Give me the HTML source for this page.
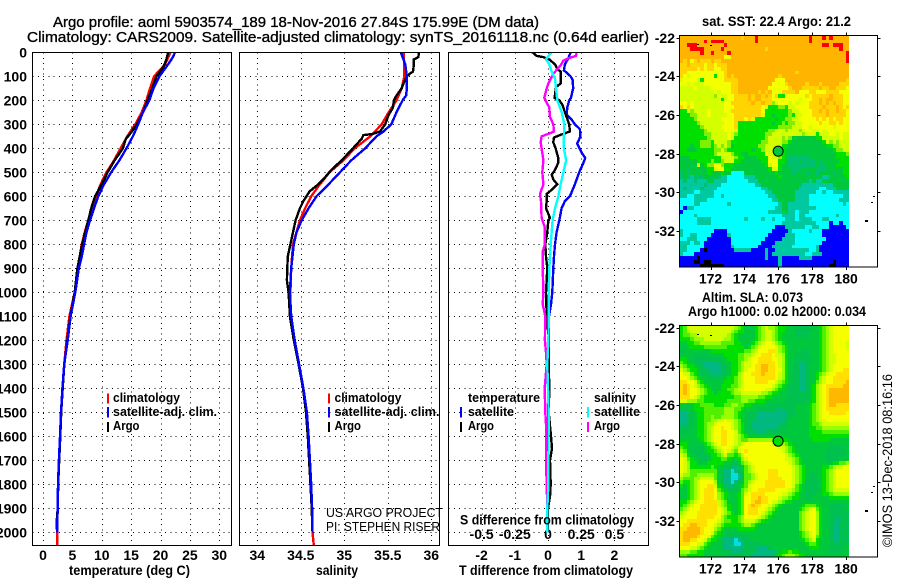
<!DOCTYPE html>
<html>
<head>
<meta charset="utf-8">
<title>Argo profile</title>
<style>
html,body{margin:0;padding:0;background:#fff;}
svg{display:block;}
text{font-family:"Liberation Sans",sans-serif;fill:#000;}
.b{font-weight:bold;font-size:14px;}
.t{font-size:15px;stroke:#000;stroke-width:.35px;}
.n{font-size:13px;font-weight:bold;}
.thin{font-size:13px;}
</style>
</head>
<body>
<svg id="chart" xmlns="http://www.w3.org/2000/svg" width="900" height="580" viewBox="0 0 900 580">
<rect width="900" height="580" fill="#fff"/>
<defs>
<clipPath id="c1"><rect x="32" y="52" width="199.5" height="493.5"/></clipPath>
<clipPath id="c2"><rect x="239" y="52" width="200.5" height="493.5"/></clipPath>
<clipPath id="c3"><rect x="448" y="52" width="200.5" height="493.5"/></clipPath>
<clipPath id="m1"><rect x="680" y="36" width="197" height="231"/></clipPath>
<clipPath id="m2"><rect x="680" y="326" width="197" height="231"/></clipPath>
</defs>

<text class="t" x="53" y="27" textLength="486" lengthAdjust="spacingAndGlyphs">Argo profile: aoml 5903574_189 18-Nov-2016 27.84S 175.99E (DM data)</text>
<text class="t" x="27" y="42" textLength="622" lengthAdjust="spacingAndGlyphs">Climatology: CARS2009. Satellite-adjusted climatology: synTS_20161118.nc (0.64d earlier)</text>

<text class="b" x="69" y="575" textLength="121" lengthAdjust="spacingAndGlyphs">temperature (deg C)</text>
<text class="b" x="316" y="575" textLength="42" lengthAdjust="spacingAndGlyphs">salinity</text>
<text class="b" x="459" y="575" textLength="174" lengthAdjust="spacingAndGlyphs">T difference from climatology</text>

<g id="layer-grid"></g>
<g id="layer-lines"></g>
<g id="layer-maps"></g>

<g>
<rect x="107" y="393.5" width="2" height="10" fill="#f00"/>
<rect x="107" y="407" width="2" height="10.5" fill="#00f"/>
<rect x="107" y="422" width="2" height="10" fill="#000"/>
<text class="n" x="113" y="402" textLength="67" lengthAdjust="spacingAndGlyphs">climatology</text>
<text class="n" x="113" y="416" textLength="104" lengthAdjust="spacingAndGlyphs">satellite-adj. clim.</text>
<text class="n" x="113" y="430" textLength="26.5" lengthAdjust="spacingAndGlyphs">Argo</text>
</g>
<g>
<rect x="328" y="393.5" width="2" height="10" fill="#f00"/>
<rect x="328" y="407" width="2" height="10.5" fill="#00f"/>
<rect x="328" y="422" width="2" height="10" fill="#000"/>
<text class="n" x="334.5" y="402" textLength="67" lengthAdjust="spacingAndGlyphs">climatology</text>
<text class="n" x="334.5" y="416" textLength="105" lengthAdjust="spacingAndGlyphs">satellite-adj. clim.</text>
<text class="n" x="334.5" y="430" textLength="26.5" lengthAdjust="spacingAndGlyphs">Argo</text>
</g>
<text class="thin" x="326" y="517" textLength="117" lengthAdjust="spacingAndGlyphs">US ARGO PROJECT</text>
<text class="thin" x="326" y="531" textLength="114" lengthAdjust="spacingAndGlyphs">PI: STEPHEN RISER</text>

<g>
<text class="n" x="468" y="402" textLength="72" lengthAdjust="spacingAndGlyphs">temperature</text>
<text class="n" x="468" y="416" textLength="46" lengthAdjust="spacingAndGlyphs">satellite</text>
<text class="n" x="468" y="430" textLength="26" lengthAdjust="spacingAndGlyphs">Argo</text>
<rect x="460" y="407" width="2" height="10.5" fill="#00f"/>
<rect x="460" y="422" width="2" height="10" fill="#000"/>
<text class="n" x="594" y="402" textLength="42" lengthAdjust="spacingAndGlyphs">salinity</text>
<text class="n" x="594" y="416" textLength="46" lengthAdjust="spacingAndGlyphs">satellite</text>
<text class="n" x="594" y="430" textLength="26" lengthAdjust="spacingAndGlyphs">Argo</text>
<rect x="587" y="407" width="2" height="10.5" fill="#0ff"/>
<rect x="587" y="422" width="2" height="10" fill="#f0f"/>
</g>
<text class="b" x="460" y="524.5" textLength="174" lengthAdjust="spacingAndGlyphs">S difference from climatology</text>

<text class="b" x="702" y="26" textLength="149" lengthAdjust="spacingAndGlyphs">sat. SST: 22.4 Argo: 21.2</text>
<text class="b" x="702" y="302" textLength="101" lengthAdjust="spacingAndGlyphs">Altim. SLA: 0.073</text>
<text class="b" x="688" y="316" textLength="178" lengthAdjust="spacingAndGlyphs">Argo h1000: 0.02 h2000: 0.034</text>
<text font-size="14" transform="rotate(-90 892 547)" x="892" y="547" textLength="173" lengthAdjust="spacingAndGlyphs">©IMOS 13-Dec-2018 08:16:16</text>
</svg>

<script>
// ---- depth axis ----
const depthTicks = [0,100,200,300,400,500,600,700,800,900,1000,1100,1200,1300,1400,1500,1600,1700,1800,1900,2000];
const tempTicks = [0,5,10,15,20,25,30];
const salTicks = [34,34.5,35,35.5,36];
const salTickLabels = ["34","34.5","35","35.5","36"];
const diffTTicks = [-2,-1,0,1,2];
const diffSTicks = [-0.5,-0.25,0,0.25,0.5];
const diffSTickLabels = ["-0.5","-0.25","0","0.25","0.5"];

// ---- temperature profiles (deg C) ----
const tempClimDepth = [0,50,100,150,200,250,300,350,400,450,500,550,600,650,700,750,800,900,1000,1100,1200,1300,1400,1500,1600,1700,1800,1900,2000,2054];
const tempClim = [21.7,20.8,18.9,18.2,17.6,16.8,15.7,14.35,13.2,12.1,10.8,9.8,9,8.3,7.7,7.1,6.6,5.9,5.4,4.5,4,3.6,3.3,3.06,2.9,2.7,2.55,2.5,2.4,2.4];
const tempSatDepth = [0,20,50,100,150,200,250,300,350,400,450,500,550,600,650,700,750,800,850,900,950,1000,1100,1200,1300,1400,1500,1600,1700,1800,1900,2000];
const tempSat = [22.46,22.1,21.3,19.8,18.8,18.1,17,16.2,15.3,14.2,13,11.6,10.4,9.4,8.7,8,7.4,7,6.6,6.1,5.8,5.5,4.7,4.2,3.6,3.3,3.06,2.9,2.7,2.55,2.5,2.4];
const tempArgoDepth = [0,30,60,100,150,200,250,300,350,360,400,450,500,550,600,650,700,800,900,1000,1100,1200,1300,1400,1500,1600,1700,1800,1900,1950,2000];
const tempArgo = [21.3,21,20.5,19.3,18.6,17.8,17,16,14.5,14.1,13.6,12.2,11,10,8.85,8.2,7.7,6.65,5.85,5.4,4.65,4.15,3.62,3.35,3.1,2.95,2.75,2.58,2.5,2.35,2.38];

// ---- salinity profiles ----
const salClimDepth = [0,50,100,150,200,250,300,350,400,450,500,550,600,650,700,800,900,1000,1050,1100,1200,1300,1400,1500,1600,1700,1800,1900,2000,2054];
const salClim = [35.68,35.69,35.69,35.66,35.6,35.51,35.43,35.3,35.12,34.99,34.83,34.72,34.62,34.55,34.49,34.41,34.39,34.38,34.38,34.39,34.43,34.48,34.53,34.57,34.59,34.605,34.62,34.63,34.635,34.65];
const salSatDepth = [0,20,50,100,150,180,200,250,300,330,350,400,450,500,550,600,650,700,750,800,900,1000,1100,1200,1300,1400,1500,1600,1700,1800,1900,2000];
const salSat = [35.65,35.67,35.7,35.72,35.72,35.71,35.67,35.6,35.54,35.45,35.37,35.24,35.08,34.95,34.82,34.68,34.59,34.51,34.45,34.42,34.39,34.375,34.39,34.43,34.48,34.53,34.57,34.59,34.605,34.62,34.63,34.635];
const salArgoDepth = [0,20,30,50,80,90,100,130,150,180,200,230,260,300,330,340,345,360,400,450,490,520,550,580,620,650,700,750,800,850,900,950,1000,1100,1200,1300,1400,1500,1600,1700,1800,1900,2000];
const salArgo = [35.86,35.85,35.8,35.8,35.79,35.75,35.72,35.68,35.66,35.6,35.57,35.56,35.51,35.47,35.41,35.33,35.22,35.2,35.1,34.97,34.85,34.78,34.7,34.6,34.53,34.49,34.44,34.41,34.38,34.35,34.345,34.34,34.36,34.375,34.42,34.475,34.525,34.56,34.58,34.595,34.612,34.625,34.635];

// ---- differences from climatology ----
const diffTSatDepth = [0,25,50,75,100,115,150,190,200,230,260,280,300,320,350,380,420,440,460,500,550,600,620,650,700,750,800,850,900,1000,1050,1100,1200,1300,1400,1500,1700,2000];
const diffTSat = [.68,.61,.51,.48,.68,.74,.76,.69,.64,.58,.56,.71,.81,.96,.98,.88,1.02,1.12,1.07,.94,.81,.66,.51,.41,.34,.26,.21,.18,.16,.13,.09,.03,.03,.02,.01,.01,0,0];
const diffTArgoDepth = [0,15,20,30,50,70,80,100,130,145,190,200,220,250,300,330,345,355,375,400,440,460,490,510,530,550,570,590,620,650,690,700,750,800,850,900,1000,1100,1200,1300,1400,1500,1600,1650,1700,1800,1850,1900,2000];
const diffTArgo = [-.47,-.34,-.14,.04,.21,.28,.38,.38,.38,.24,.2,.34,.44,.51,.64,.66,.36,.18,.16,.23,.31,.31,.21,.11,.16,.28,.14,-.04,-.04,-.06,.06,.01,-.02,-.08,-.06,-.02,-.06,-.04,.03,.02,.04,.02,.09,.12,.06,.08,.06,0,0];
const diffSArgoDepth = [0,15,25,35,55,70,90,130,150,190,210,230,270,300,330,340,350,375,400,450,500,550,590,620,690,730,800,830,900,1000,1050,1100,1200,1250,1300,1400,1500,1550,1700,1800,1900,2000];
const diffSArgo = [.216,.211,.153,.115,.095,.07,.04,.003,-.01,-.028,-.01,.01,.015,.04,.045,.003,-.048,-.055,-.048,-.035,-.043,-.035,-.06,-.053,-.048,-.023,-.023,-.04,-.04,-.035,-.04,-.02,-.023,-.015,-.01,-.025,-.02,-.015,-.015,-.01,-.005,-.005];
const diffSSatDepth = [0,15,30,50,80,110,150,200,250,300,350,400,450,500,550,600,650,700,800,900,1000,1100,1200,1300,1400,1500,1700,1800,1900,2000];
const diffSSat = [.028,.003,-.015,.01,.028,.053,.06,.07,.103,.123,.12,.12,.136,.116,.095,.078,.053,.035,.02,.01,.005,.005,.003,-.005,0,.005,.003,.003,-.005,-.005];

// ---- maps ----
const mapLatTicks = [-22,-24,-26,-28,-30,-32];
const mapLonTicks = [172,174,176,178,180];
const argoLat = -27.84;
const argoLon = 175.99;
const islandLon = [181.65,181.5,181.2,172.03,171.28];
const islandLat = [-30.17,-30.48,-31.43,-22.36,-22.33];

// SST colour class per 0.2 degree cell (hex digit, one row per latitude)
const sstGrid = [
"aaaaaaaaaa aaaaaaaa9a aabaaaaaaa aaaaaaaaba aababaaaaa",
"aaaaaaabab bbbaaaaaaa aabaaaaaaa aaaaaaaaba aaaaaaaaaa",
"aabbbaaaaa aaabaaaaaa aaaaaaaaaa aaaaaaaaaa aabbabbbaa",
"aaabbbbaaa aabaaaaaaa aaaaa9aaaa aaaaaaaaaa aaaaaaabaa",
"aaaaaabaab aaaabaaaaa aaaaaaaaaa aaaaaaaaaa aaaaaaaaab",
"aaaaaaaaaa aaa88aaaaa aaaaaaaaaa aaaaaaaaaa aaaaaaaaab",
"a9a89a999a 99aaaaaaaa aaaaaaaaaa aaaaaaaaaa aaaaaaaaab",
"99a9999899 8999aaaaaa aaaaaaaaaa aaaaaaaaaa aaaaaaaaaa",
"9999989899 8899aaaaaa aaaaaaaaaa aaaaaaaaaa aaaaaaaaaa",
"9988888888 8889aaaaaa aaaaaaaaaa aaaa9aaaaa aaaaaaaaaa",
"9878888888 5889a9aaaa aaaaaaaaa9 aaaaaaaaaa aaaaaaaaaa",
"7888875888 8889999aaa aaaaaaaa88 8aaaaaaaaa aaaaaaaaa9",
"8878777888 8888899aaa aaaaaaa888 89aaaaa9aa a9aaaaa999",
"7777877778 8888899aaa aaaaaa8888 889aaa9999 9a99aa9998",
"7777777777 8788899aaa aaa9a9a888 9999a88899 8889999888",
"7777777777 6877889999 a9aa9a9895 5888888989 9999a99988",
"7777777777 7757889999 a9aa999888 8888878889 9a9aa99988",
"8878777777 7778899999 9a99a99678 8878788899 9a9a9a9988",
"9898777777 7778889999 9999875556 6577888899 99a999a989",
"5576777787 7778899999 9999855555 5567788889 9a9a99a998",
"5556677787 7777889999 9999755455 5565778889 999a999998",
"5555677777 7788889998 9755555545 5667788888 9898989988",
"5555567777 7778889555 5555555455 6566778888 8988998988",
"5555556777 7788889555 5555555556 6667778878 8888878888",
"5555555677 7778887555 5555556677 7677767887 7878888888",
"5555555667 7777876555 5555566777 7777776777 5777887877",
"5555555567 7777875555 5555567777 6764444444 5577777877",
"5555556665 7777655555 5555667777 6654444444 4457676777",
"5554556665 6767645555 5556677777 5544444444 4445566777",
"5544455555 6676555555 5455677776 5444444444 4444456677",
"5555555555 6777765544 5555587775 5444444444 4444445556",
"4445555555 5577776554 4445558776 54cccccc44 4444445555",
"4444455556 5567775544 4444558885 54ccc4cccc 4c44444555",
"4444474566 8865554444 4444457885 44cccccccc 4cc4445555",
"44c4444455 7885544444 4444445775 444ccc4444 ccc4444455",
"c4c4444454 4454422224 4444444454 444c444c44 c4444c4455",
"c4c3ccc44c 4c33222223 3344444445 4444444444 4433444445",
"3c33c33344 3333222222 3334444444 4444444c34 3344444444",
"3333333c33 3322222222 2233444444 44444c3333 3333344444",
"3c3333c333 3222222222 2222334444 4444433333 3223334444",
"3333223333 2222222222 2222233444 4444333333 2232233333",
"3322333333 2232222222 2222223344 4444333322 2222222233",
"2222333322 2222222222 2222222334 4444333322 2222222333",
"2222332222 2222322222 2222222223 4433333322 2222222232",
"2133222222 2222222222 2222222233 4433333333 2222222222",
"1222222222 2222222222 2222223333 4433233322 2222222222",
"2222322222 2222222222 2222222222 3333233222 2222223222",
"2222233332 2222222223 2222322322 2333233332 2233222222",
"2222233332 2222222222 2222222222 3333333333 2222122122",
"2222222222 2222222222 2222222211 1333333223 3222111112",
"3222222222 1111222222 2222222111 1132222232 2211111111",
"3223322221 1111322222 2222221111 1333222222 2211111111",
"2233322211 1111122222 2222211111 3333222222 2221111111",
"3332332111 1111122222 2222111133 3333222222 2211111111",
"3322222111 1111132222 2221111333 3332222222 3111111111",
"3322221011 1111113333 3111131133 3333333322 3111111111",
"3222111111 1111111111 1111131333 3333333223 3311111111",
"1111101111 1111111111 1111131113 1111133331 1111111111",
"1111001001 1111111111 1111111113 1111111111 1111101111",
"1111110000 0001111111 1111111113 1111111111 1111001111"
];

// Sea level anomaly colour class per 0.2 degree cell (hex digit)
const slaGrid = [
"4577777777 7777776543 3345676654 4333222223 3456788888",
"4567777777 7777765443 3345677654 4333222223 3456788888",
"4556677777 7777654333 3345677654 3333222233 3456788888",
"4445666777 7776654333 3345677654 3333333333 3456788888",
"3344556666 6655554433 3456788765 4333333333 3456788887",
"3334444555 5555444443 4567888876 5433333333 3456788887",
"2333333334 4444444445 5678889976 5433332233 3456788888",
"3333222233 3334444556 6788999877 6433222233 3456778888",
"4433222222 2233444556 7889999887 6433222223 3456778888",
"5433221111 1223344567 7889999987 6433212223 3456778888",
"6544322111 1122344567 7899aa9987 6432211233 3456788888",
"7654432211 1122344567 8899aa9988 6432211233 3456788899",
"8775432221 1122344678 8999a99987 6432211233 4567889999",
"8876543322 2233445678 8899999987 6432211233 4678899999",
"9988754333 3334445678 8899998876 5432211233 567889999a",
"9a98765433 3344455678 8888888765 4322211234 67899999aa",
"9a98876543 3344556778 8888877654 3322211234 6789aaaaaa",
"9a98876544 3444456677 7777665443 3322222234 6789aaaaaa",
"9998765444 4444445566 6665544333 3222222234 6789aaaaaa",
"7766655444 4444555566 5544433333 3222222334 6789aaaaaa",
"3333445555 4445566554 4333332222 2222333345 6789aa9999",
"2233444555 5556665543 3322222221 2222333345 6789999999",
"1122344555 5556665433 2221111111 1122333345 6788999998",
"1122344556 5566665433 2211111111 1223333345 6788888888",
"1122344556 6778776533 2211111111 1233333345 6778888888",
"1122344566 7888876543 2111111111 2233333345 5677777777",
"2223344567 8898876543 2111111112 2233333344 5566666666",
"2223344567 8899887543 2211122222 3333333344 4455555555",
"3333344567 8899887654 3333333333 3333333344 4444444444",
"3333334567 8899887655 6666666554 4433333334 4444333333",
"4433333456 7899887678 8888888776 6543333333 3333333333",
"5433222345 6788876788 8888888887 7654333333 3333222233",
"6533222344 5678765789 8888888888 7654333333 3332222223",
"7643322234 4567554578 8888888888 8765433333 3332222223",
"8754332234 4455433467 8888888888 8776543333 3332222333",
"8764433344 4443322356 7888888888 8876543333 3333344556",
"8764444445 4332211235 6788888888 8887654333 3344567788",
"8765555555 5321101235 6788889998 8887654333 3345678888",
"7665566666 5321100125 5678889998 8887654322 3345678888",
"6555667777 5321100125 5678889999 8887654322 3345678888",
"5445678888 6321101235 6788899999 9887654222 2345678888",
"4345678899 7432112345 7888899999 9887543222 2345678888",
"3345678999 8543222356 7889999988 8876543222 2345677777",
"3345678999 8654333457 8999988888 7765433222 3344566666",
"3345678999 8654333458 899a998887 6654433223 3333444444",
"4456788999 9765333458 89aa998776 5443333333 3333333333",
"4567889999 9765433458 9a99887654 3333334555 4333222233",
"5678889999 9876433458 9998876543 3333345678 5433222223",
"6788899999 9876543458 9998765433 3333356788 6433222222",
"7888899999 8865444568 8887654333 3333356788 6433221222",
"8899999988 8765544567 7765433333 3333356788 6433221222",
"899aa99988 7654444456 6543333333 3333356788 6433211222",
"99aaaa9888 6543333444 4433333333 3333356788 6433211222",
"9aaaaa9887 5433222233 3333333333 3333345678 6433211222",
"9aaaa98875 4332222222 3333333333 3333345678 5433211222",
"9aa9988754 4321110122 2333333333 3333334567 4333211222",
"9998877543 3321110012 2222333333 3333333455 4333222222",
"8887765433 3321111112 2221112333 3333333344 4333222233",
"6665544333 3322211122 2211111123 4454433333 3333222233",
"5544444333 3333222222 2111111234 5666544333 3333333333"
];

// ---- colour scales ----
const sstScale = ["#000000","#0000ff","#00ffff","#00c8a0","#00c83c","#00e000","#80f000","#d4ff00","#f4ff00","#ffd400","#ffb400","#ff0000","#00c070"];
const slaScale = ["#00e0e0","#00b880","#00c050","#00c83c","#00e000","#50f000","#98ff00","#d4ff00","#f6ff00","#ffe000","#ffb800"];

// ---- axis functions ----
const SVGNS = "http://www.w3.org/2000/svg";
const yDepth = d => 52.3 + d * 0.24;
const xTemp = t => 43 + t * 5.877;
const xSal = s => 257.3 + (s - 34) * 87;
const xDiffT = t => 548 + t * 33.2;
const xDiffS = s => 548 + s * 4 * 33.2;
const xLon = lon => 778.3 + (lon - 176) * 16.95;
const yLat = (lat, off) => 37.7 + off + (-22 - lat) * 19.33;
const cellLon = c => 170.2 + 0.2 * c;
const cellLat = r => -21.9 - 0.2 * r;

const gridLayer = document.getElementById('layer-grid');
const lineLayer = document.getElementById('layer-lines');
const mapLayer = document.getElementById('layer-maps');

function addLine(parent, x1, y1, x2, y2, name, dash) {
  const el = document.createElementNS(SVGNS, 'line');
  el.setAttribute('x1', x1);
  el.setAttribute('y1', y1);
  el.setAttribute('x2', x2);
  el.setAttribute('y2', y2);
  el.setAttribute('stroke', '#000');
  el.setAttribute('stroke-width', '1');
  el.setAttribute('shape-rendering', 'crispEdges');
  if (dash) el.setAttribute('stroke-dasharray', dash);
  
  
  parent.appendChild(el);
}
function addLabel(parent, x, y, str, anchor, name) {
  const el = document.createElementNS(SVGNS, 'text');
  el.setAttribute('x', x);
  el.setAttribute('y', y);
  el.setAttribute('text-anchor', anchor);
  el.setAttribute('class', 'b');
  el.textContent = str;
  
  
  parent.appendChild(el);
}
function addFrame(parent, x, y, w, h, name) {
  const el = document.createElementNS(SVGNS, 'rect');
  el.setAttribute('x', x);
  el.setAttribute('y', y);
  el.setAttribute('width', w);
  el.setAttribute('height', h);
  el.setAttribute('fill', 'none');
  el.setAttribute('stroke', '#000');
  el.setAttribute('stroke-width', '1');
  el.setAttribute('shape-rendering', 'crispEdges');
  
  
  parent.appendChild(el);
}
function addProfile(clip, depths, values, xFn, colour, name) {
  const el = document.createElementNS(SVGNS, 'polyline');
  el.setAttribute('points', depths.map((d, i) => xFn(values[i]).toFixed(1) + ',' + yDepth(d).toFixed(1)).join(' '));
  el.setAttribute('fill', 'none');
  el.setAttribute('stroke', colour);
  el.setAttribute('stroke-width', '2.4');
  el.setAttribute('shape-rendering', 'crispEdges');
  el.setAttribute('clip-path', 'url(#' + clip + ')');
  
  
  lineLayer.appendChild(el);
}

// ---- profile panels ----
const GRID_DASH = '1 4.3';
[[32.5, 231.5], [239.5, 439.5], [448.5, 648.5]].forEach(function (edge) {
  depthTicks.forEach(function (d) {
    addLine(gridLayer, edge[0], Math.round(yDepth(d)) + .5, edge[1], Math.round(yDepth(d)) + .5, 'depth-gridline', GRID_DASH);
  });
});
tempTicks.forEach(function (t) {
  addLine(gridLayer, Math.round(xTemp(t)) + .5, 52.5, Math.round(xTemp(t)) + .5, 545.5, 'temperature-gridline', GRID_DASH);
  addLabel(gridLayer, xTemp(t), 560, String(t), 'middle', 'temperature-tick-label');
});
salTicks.forEach(function (s, i) {
  addLine(gridLayer, Math.round(xSal(s)) + .5, 52.5, Math.round(xSal(s)) + .5, 545.5, 'salinity-gridline', GRID_DASH);
  addLabel(gridLayer, xSal(s), 560, salTickLabels[i], 'middle', 'salinity-tick-label');
});
diffTTicks.forEach(function (t) {
  addLine(gridLayer, Math.round(xDiffT(t)) + .5, 52.5, Math.round(xDiffT(t)) + .5, 545.5, 'difference-gridline', GRID_DASH);
  addLabel(gridLayer, xDiffT(t), 560, String(t), 'middle', 't-difference-tick-label');
});
diffSTicks.forEach(function (s, i) {
  addLabel(gridLayer, xDiffS(s), 539, diffSTickLabels[i], 'middle', 's-difference-tick-label');
});
depthTicks.forEach(function (d) {
  addLabel(gridLayer, 27, yDepth(d) + 5, String(d), 'end', 'depth-tick-label');
});

addProfile('c1', tempClimDepth, tempClim, xTemp, '#ff0000', 'temperature-climatology-line');
addProfile('c1', tempArgoDepth, tempArgo, xTemp, '#000000', 'temperature-argo-line');
addProfile('c1', tempSatDepth, tempSat, xTemp, '#0000ff', 'temperature-satellite-line');
addProfile('c2', salClimDepth, salClim, xSal, '#ff0000', 'salinity-climatology-line');
addProfile('c2', salArgoDepth, salArgo, xSal, '#000000', 'salinity-argo-line');
addProfile('c2', salSatDepth, salSat, xSal, '#0000ff', 'salinity-satellite-line');
addProfile('c3', diffTSatDepth, diffTSat, xDiffT, '#0000ff', 'difference-t-satellite-line');
addProfile('c3', diffTArgoDepth, diffTArgo, xDiffT, '#000000', 'difference-t-argo-line');
addProfile('c3', diffSArgoDepth, diffSArgo, xDiffS, '#ff00ff', 'difference-s-argo-line');
addProfile('c3', diffSSatDepth, diffSSat, xDiffS, '#00ffff', 'difference-s-satellite-line');

addFrame(lineLayer, 32.5, 52.5, 199, 493, 'temperature-panel-frame');
addFrame(lineLayer, 239.5, 52.5, 200, 493, 'salinity-panel-frame');
addFrame(lineLayer, 448.5, 52.5, 200, 493, 'difference-panel-frame');

// ---- maps ----
function drawMap(grid, scale, off, clip, mapName, markerFill) {
  const group = document.createElementNS(SVGNS, 'g');
  group.setAttribute('clip-path', 'url(#' + clip + ')');
  
  
  mapLayer.appendChild(group);
  grid.forEach(function (rowStr, r) {
    const row = rowStr.replace(/ /g, '');
    const y0 = Math.round(yLat(cellLat(r), off));
    const y1 = Math.round(yLat(cellLat(r + 1), off));
    for (let c = 0; c < row.length; c++) {
      const x0 = Math.round(xLon(cellLon(c)));
      const x1 = Math.round(xLon(cellLon(c + 1)));
      const cell = document.createElementNS(SVGNS, 'rect');
      cell.setAttribute('x', x0);
      cell.setAttribute('y', y0);
      cell.setAttribute('width', x1 - x0);
      cell.setAttribute('height', y1 - y0);
      cell.setAttribute('fill', scale[parseInt(row[c], 16)]);
      cell.setAttribute('shape-rendering', 'crispEdges');
      
      
      group.appendChild(cell);
    }
  });
  islandLon.forEach(function (lon, i) {
    const mark = document.createElementNS(SVGNS, 'rect');
    mark.setAttribute('x', Math.round(xLon(lon)) - 1);
    mark.setAttribute('y', Math.round(yLat(islandLat[i], off)));
    mark.setAttribute('width', i === 2 ? 3 : 2);
    mark.setAttribute('height', i === 2 ? 2 : 1);
    mark.setAttribute('fill', '#000');
    
    
    group.appendChild(mark);
  });
  const marker = document.createElementNS(SVGNS, 'circle');
  marker.setAttribute('cx', xLon(argoLon));
  marker.setAttribute('cy', yLat(argoLat, off) + .6);
  marker.setAttribute('r', '5');
  marker.setAttribute('fill', markerFill);
  marker.setAttribute('stroke', '#000');
  marker.setAttribute('stroke-width', '1');
  
  
  group.appendChild(marker);
  addFrame(mapLayer, 679.5, 35.5 + off, 198, 231.5, mapName + '-frame');
  mapLatTicks.forEach(function (lat) {
    const y = Math.round(yLat(lat, off)) + .5;
    addLine(mapLayer, 676.5, y, 679.5, y, 'latitude-tick');
    addLine(mapLayer, 877.5, y, 880.5, y, 'latitude-tick');
    addLabel(mapLayer, 675, y + 4.5, '-' + Math.abs(lat), 'end', 'latitude-tick-label');
  });
  mapLonTicks.forEach(function (lon) {
    const x = Math.round(xLon(lon)) + .5;
    addLine(mapLayer, x, 32.5 + off, x, 35.5 + off, 'longitude-tick');
    addLine(mapLayer, x, 267 + off, x, 270 + off, 'longitude-tick');
    addLabel(mapLayer, xLon(lon), 283.5 + off, String(lon), 'middle', 'longitude-tick-label');
  });
}
drawMap(sstGrid, sstScale, 0, 'm1', 'sst-map', '#00c83c');
drawMap(slaGrid, slaScale, 290, 'm2', 'sla-map', '#00e000');
</script>
</body>
</html>
